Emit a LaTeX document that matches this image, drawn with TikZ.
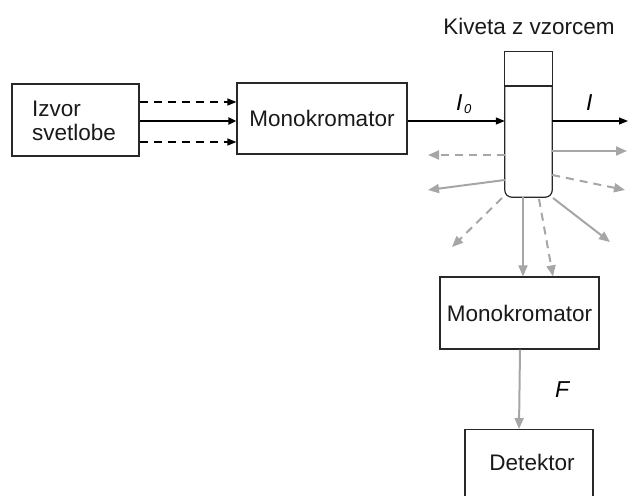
\documentclass[tikz,border=0pt]{standalone}
\usepackage{fontspec}
\setmainfont{Liberation Sans}
\usetikzlibrary{arrows.meta}
\definecolor{ray}{RGB}{166,166,166}
\definecolor{edge}{RGB}{40,40,40}
\begin{document}
\begin{tikzpicture}[x=1pt,y=-1pt,
  box/.style={draw=edge,line width=1.2pt,rectangle,inner sep=0pt},
  lbl/.style={font=\fontsize{22.5}{27}\selectfont,inner sep=0pt,text=black!90},
  ilbl/.style={font=\fontsize{23}{27}\selectfont\itshape,anchor=base west,inner sep=0pt},
  blk/.style={draw=black,line width=1.2pt,-{Triangle[length=9pt,width=7pt]}},
  blkthick/.style={blk,line width=2.6pt,-{Triangle[length=8pt,width=7pt]}},
  gr/.style={draw=ray,line width=2pt,-{Triangle[length=11pt,width=9pt]}},
  grd/.style={gr,dash pattern=on 8pt off 6pt}
]
\useasboundingbox (0,0) rectangle (628,495);
\clip (0,0) rectangle (628,495);
% boxes
\node[box,minimum width=127pt,minimum height=72pt] (izv) at (75.5,120) {};
\node[lbl,anchor=base west] at (32,116) {Izvor};
\node[lbl,anchor=base west] at (32,140) {svetlobe};
\node[box,minimum width=170pt,minimum height=71pt] (mono1) at (322,118.5) {};
\node[lbl] at (mono1.center) {Monokromator};
% cuvette
\node[minimum width=47pt,minimum height=145pt,inner sep=0pt] (kiv) at (528.5,124.5) {};
\draw[edge,line width=1.2pt] (kiv.west|-0,86) -- (kiv.north west) -- (kiv.north east) -- (kiv.east|-0,86);
\draw[edge,line width=1.2pt,rounded corners=7pt] (kiv.west|-0,86) -- (kiv.south west) -- (kiv.south east) -- (kiv.east|-0,86);
\draw[edge,line width=1.2pt] (kiv.west|-0,86) -- (kiv.east|-0,86);
\node[lbl,anchor=base] (kivlbl) at (529,35) {Kiveta z vzorcem};
\node[box,minimum width=159pt,minimum height=72pt] (mono2) at (519.5,313) {};
\node[lbl] at (mono2.center) {Monokromator};
\node[box,minimum width=128pt,minimum height=120pt,anchor=north] (det) at (529,429) {};
\node[lbl,anchor=base] at (532,470) {Detektor};
% source to mono1
\draw[blk,dash pattern=on 8pt off 6pt] (izv.east|-0,102) -- (mono1.west|-0,102);
\draw[blkthick] (izv.east|-0,121) -- (mono1.west|-0,121);
\draw[blk,dash pattern=on 8pt off 6pt] (izv.east|-0,142) -- (mono1.west|-0,142);
% I0 and I
\draw[blk] (mono1.east|-0,121) -- (kiv.west|-0,121);
\node[ilbl] at (456,110) {I};
\node[font=\fontsize{13}{15}\selectfont\itshape,anchor=base west,inner sep=0pt] at (464,113) {0};
\coordinate (iend) at (628,121);
\draw[blk] (kiv.east|-0,121) -- (iend);
\node[ilbl] at (586,110) {I};
% scattered rays
\coordinate (r1) at (627,151);
\coordinate (r2) at (428,155);
\coordinate (r3) at (428,190);
\coordinate (r4) at (625,190);
\coordinate (r5) at (452,247);
\coordinate (r6) at (610,242);
\draw[gr] (kiv.east|-0,151) -- (r1);
\draw[grd] (kiv.west|-0,155) -- (r2);
\draw[gr] (kiv.west|-0,180) -- (r3);
\draw[grd] (kiv.east|-0,175) -- (r4);
\draw[grd] (502,198) -- (r5);
\draw[gr] (553,198) -- (r6);
\draw[gr] (523,197) -- (mono2.north-|523,0);
\draw[grd] (539,199) -- (mono2.north-|553,0);
% to detector
\draw[gr] (mono2.south-|520,0) -- (det.north-|519,0);
\node[ilbl] at (555,397) {F};
\end{tikzpicture}
\end{document}
